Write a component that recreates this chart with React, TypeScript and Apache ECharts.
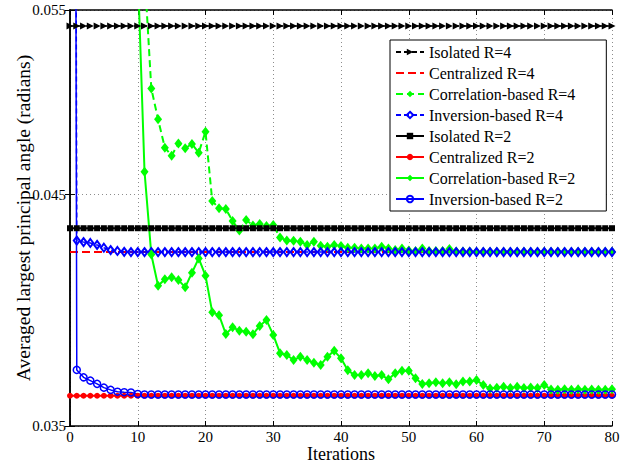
import React, { useEffect, useRef } from "react";
import * as echarts from "echarts";

const FONT = "'Liberation Serif', 'Times New Roman', serif";

const seriesNames = [
  "Isolated R=4",
  "Centralized R=4",
  "Correlation-based R=4",
  "Inversion-based R=4",
  "Isolated R=2",
  "Centralized R=2",
  "Correlation-based R=2",
  "Inversion-based R=2",
];

const xTicks = [0, 10, 20, 30, 40, 50, 60, 70, 80];
const yTicks = [0.035, 0.045, 0.055];

// iterations 0..80
const iterations = [
  0, 1, 2, 3, 4, 5, 6, 7, 8, 9, 10, 11, 12, 13, 14, 15, 16, 17, 18, 19, 20,
  21, 22, 23, 24, 25, 26, 27, 28, 29, 30, 31, 32, 33, 34, 35, 36, 37, 38, 39, 40,
  41, 42, 43, 44, 45, 46, 47, 48, 49, 50, 51, 52, 53, 54, 55, 56, 57, 58, 59, 60,
  61, 62, 63, 64, 65, 66, 67, 68, 69, 70, 71, 72, 73, 74, 75, 76, 77, 78, 79, 80,
];

const isolatedR4 = [
  0.05405, 0.05405, 0.05405, 0.05405, 0.05405, 0.05405, 0.05405, 0.05405, 0.05405, 0.05405, 0.05405,
  0.05405, 0.05405, 0.05405, 0.05405, 0.05405, 0.05405, 0.05405, 0.05405, 0.05405, 0.05405,
  0.05405, 0.05405, 0.05405, 0.05405, 0.05405, 0.05405, 0.05405, 0.05405, 0.05405, 0.05405,
  0.05405, 0.05405, 0.05405, 0.05405, 0.05405, 0.05405, 0.05405, 0.05405, 0.05405, 0.05405,
  0.05405, 0.05405, 0.05405, 0.05405, 0.05405, 0.05405, 0.05405, 0.05405, 0.05405, 0.05405,
  0.05405, 0.05405, 0.05405, 0.05405, 0.05405, 0.05405, 0.05405, 0.05405, 0.05405, 0.05405,
  0.05405, 0.05405, 0.05405, 0.05405, 0.05405, 0.05405, 0.05405, 0.05405, 0.05405, 0.05405,
  0.05405, 0.05405, 0.05405, 0.05405, 0.05405, 0.05405, 0.05405, 0.05405, 0.05405, 0.05405,
];

const centralizedR4 = [
  0.04228, 0.04228, 0.04228, 0.04228, 0.04228, 0.04228, 0.04228, 0.04228, 0.04228, 0.04228, 0.04228,
  0.04228, 0.04228, 0.04228, 0.04228, 0.04228, 0.04228, 0.04228, 0.04228, 0.04228, 0.04228,
  0.04228, 0.04228, 0.04228, 0.04228, 0.04228, 0.04228, 0.04228, 0.04228, 0.04228, 0.04228,
  0.04228, 0.04228, 0.04228, 0.04228, 0.04228, 0.04228, 0.04228, 0.04228, 0.04228, 0.04228,
  0.04228, 0.04228, 0.04228, 0.04228, 0.04228, 0.04228, 0.04228, 0.04228, 0.04228, 0.04228,
  0.04228, 0.04228, 0.04228, 0.04228, 0.04228, 0.04228, 0.04228, 0.04228, 0.04228, 0.04228,
  0.04228, 0.04228, 0.04228, 0.04228, 0.04228, 0.04228, 0.04228, 0.04228, 0.04228, 0.04228,
  0.04228, 0.04228, 0.04228, 0.04228, 0.04228, 0.04228, 0.04228, 0.04228, 0.04228, 0.04228,
];

const correlationR4 = [
  null, null, null, null, null, null, null, null, null, null, null,
  0.0573, 0.05051, 0.04884, 0.04736, 0.04695, 0.04758, 0.04733, 0.04755, 0.0471, 0.04819,
  0.04469, 0.04434, 0.04431, 0.04373, 0.04328, 0.04378, 0.04352, 0.04359, 0.04349, 0.04354,
  0.04296, 0.04281, 0.0428, 0.04276, 0.04261, 0.04276, 0.04257, 0.04253, 0.04261, 0.04256,
  0.04248, 0.04248, 0.04245, 0.04245, 0.04245, 0.04253, 0.04245, 0.04237, 0.04245, 0.04235,
  0.04233, 0.04245, 0.04233, 0.04233, 0.04233, 0.04242, 0.04231, 0.04231, 0.04231, 0.0423,
  0.0423, 0.0423, 0.0423, 0.0423, 0.0423, 0.0423, 0.0423, 0.0423, 0.0423, 0.0423,
  0.0423, 0.0423, 0.0423, 0.0423, 0.0423, 0.0423, 0.0423, 0.0423, 0.0423, 0.0423,
];

const inversionR4 = [
  1.0, 0.04281, 0.04274, 0.0427, 0.04261, 0.04248, 0.04237, 0.04233, 0.04229, 0.04228, 0.04228,
  0.04228, 0.04228, 0.04228, 0.04228, 0.04228, 0.04228, 0.04228, 0.04228, 0.04228, 0.04228,
  0.04228, 0.04228, 0.04228, 0.04228, 0.04228, 0.04228, 0.04228, 0.04228, 0.04228, 0.04228,
  0.04228, 0.04228, 0.04228, 0.04228, 0.04228, 0.04228, 0.04228, 0.04228, 0.04228, 0.04228,
  0.04228, 0.04228, 0.04228, 0.04228, 0.04228, 0.04228, 0.04228, 0.04228, 0.04228, 0.04228,
  0.04228, 0.04228, 0.04228, 0.04228, 0.04228, 0.04228, 0.04228, 0.04228, 0.04228, 0.04228,
  0.04228, 0.04228, 0.04228, 0.04228, 0.04228, 0.04228, 0.04228, 0.04228, 0.04228, 0.04228,
  0.04228, 0.04228, 0.04228, 0.04228, 0.04228, 0.04228, 0.04228, 0.04228, 0.04228, 0.04228,
];

const isolatedR2 = [
  0.04339, 0.04339, 0.04339, 0.04339, 0.04339, 0.04339, 0.04339, 0.04339, 0.04339, 0.04339, 0.04339,
  0.04339, 0.04339, 0.04339, 0.04339, 0.04339, 0.04339, 0.04339, 0.04339, 0.04339, 0.04339,
  0.04339, 0.04339, 0.04339, 0.04339, 0.04339, 0.04339, 0.04339, 0.04339, 0.04339, 0.04339,
  0.04339, 0.04339, 0.04339, 0.04339, 0.04339, 0.04339, 0.04339, 0.04339, 0.04339, 0.04339,
  0.04339, 0.04339, 0.04339, 0.04339, 0.04339, 0.04339, 0.04339, 0.04339, 0.04339, 0.04339,
  0.04339, 0.04339, 0.04339, 0.04339, 0.04339, 0.04339, 0.04339, 0.04339, 0.04339, 0.04339,
  0.04339, 0.04339, 0.04339, 0.04339, 0.04339, 0.04339, 0.04339, 0.04339, 0.04339, 0.04339,
  0.04339, 0.04339, 0.04339, 0.04339, 0.04339, 0.04339, 0.04339, 0.04339, 0.04339, 0.04339,
];

const centralizedR2 = [
  0.03617, 0.03617, 0.03617, 0.03617, 0.03617, 0.03617, 0.03617, 0.03617, 0.03617, 0.03617, 0.03617,
  0.03617, 0.03617, 0.03617, 0.03617, 0.03617, 0.03617, 0.03617, 0.03617, 0.03617, 0.03617,
  0.03617, 0.03617, 0.03617, 0.03617, 0.03617, 0.03617, 0.03617, 0.03617, 0.03617, 0.03617,
  0.03617, 0.03617, 0.03617, 0.03617, 0.03617, 0.03617, 0.03617, 0.03617, 0.03617, 0.03617,
  0.03617, 0.03617, 0.03617, 0.03617, 0.03617, 0.03617, 0.03617, 0.03617, 0.03617, 0.03617,
  0.03617, 0.03617, 0.03617, 0.03617, 0.03617, 0.03617, 0.03617, 0.03617, 0.03617, 0.03617,
  0.03617, 0.03617, 0.03617, 0.03617, 0.03617, 0.03617, 0.03617, 0.03617, 0.03617, 0.03617,
  0.03617, 0.03617, 0.03617, 0.03617, 0.03617, 0.03617, 0.03617, 0.03617, 0.03617, 0.03617,
];

const correlationR2 = [
  null, null, null, null, null, null, null, null, null, null, 0.0575,
  0.04614, 0.04217, 0.04076, 0.04105, 0.04114, 0.04102, 0.04069, 0.04134, 0.04199, 0.04121,
  0.0396, 0.03948, 0.03868, 0.03896, 0.03882, 0.03877, 0.03867, 0.03902, 0.03927, 0.03864,
  0.03788, 0.03781, 0.0376, 0.03774, 0.0376, 0.03749, 0.0374, 0.03774, 0.03798, 0.03767,
  0.03719, 0.03699, 0.03699, 0.03706, 0.03695, 0.03699, 0.03682, 0.03706, 0.03717, 0.03717,
  0.03686, 0.03663, 0.03666, 0.0367, 0.03666, 0.0367, 0.03662, 0.03673, 0.03673, 0.03679,
  0.03659, 0.03646, 0.03649, 0.03652, 0.03648, 0.03652, 0.03648, 0.0365, 0.03648, 0.03659,
  0.03642, 0.03641, 0.03643, 0.03641, 0.03643, 0.03641, 0.03642, 0.03641, 0.03641, 0.03643,
];

const inversionR2 = [
  1.0, 0.0372, 0.0369, 0.03677, 0.03664, 0.03649, 0.0364, 0.03633, 0.03631, 0.0363, 0.03624,
  0.03622, 0.03622, 0.03622, 0.03622, 0.03622, 0.03622, 0.03622, 0.03622, 0.03622, 0.03622,
  0.03622, 0.03622, 0.03622, 0.03622, 0.03622, 0.03622, 0.03622, 0.03622, 0.03622, 0.03622,
  0.03622, 0.03622, 0.03622, 0.03622, 0.03622, 0.03622, 0.03622, 0.03622, 0.03622, 0.03622,
  0.03622, 0.03622, 0.03622, 0.03622, 0.03622, 0.03622, 0.03622, 0.03622, 0.03622, 0.03622,
  0.03622, 0.03622, 0.03622, 0.03622, 0.03622, 0.03622, 0.03622, 0.03622, 0.03622, 0.03622,
  0.03622, 0.03622, 0.03622, 0.03622, 0.03622, 0.03622, 0.03622, 0.03622, 0.03622, 0.03622,
  0.03622, 0.03622, 0.03622, 0.03622, 0.03622, 0.03622, 0.03622, 0.03622, 0.03622, 0.03622,
];

const seriesValues = [
  isolatedR4,
  centralizedR4,
  correlationR4,
  inversionR4,
  isolatedR2,
  centralizedR2,
  correlationR2,
  inversionR2,
];

const styles: any[] = [
  { color: "#000000", width: 1.5, type: [5, 3], symbol: "triangle", size: 7, rotate: -90, fill: "#000000" },
  { color: "#ff0000", width: 2, type: [8, 4], symbol: "none", size: 0, rotate: 0, fill: "#ff0000" },
  { color: "#00ff00", width: 2, type: [7, 4], symbol: "diamond", size: [8, 10], rotate: 0, fill: "#00ff00" },
  { color: "#0000ff", width: 1.5, type: [5, 3], symbol: "diamond", size: [6, 8], rotate: 0, fill: "none", border: 2 },
  { color: "#000000", width: 2, type: "solid", symbol: "rect", size: 6, rotate: 0, fill: "#000000" },
  { color: "#ff0000", width: 2, type: "solid", symbol: "circle", size: 6, rotate: 0, fill: "#ff0000" },
  { color: "#00ff00", width: 2, type: "solid", symbol: "diamond", size: [8, 10], rotate: 0, fill: "#00ff00" },
  { color: "#0000ff", width: 1.5, type: "solid", symbol: "circle", size: 7, rotate: 0, fill: "none", border: 1.5 },
];

export default function App() {
  const ref = useRef<HTMLDivElement>(null);

  useEffect(() => {
    if (!ref.current) return;
    const chart = echarts.init(ref.current, undefined, { renderer: "svg" });

    const series = seriesNames.map((name, i) => {
      const s = styles[i];
      const itemStyle: any =
        s.fill === "none"
          ? { color: "rgba(255,255,255,0)", borderColor: s.color, borderWidth: s.border }
          : { color: s.fill, borderWidth: 0 };
      return {
        name,
        type: "line",
        xAxisIndex: 0,
        yAxisIndex: 0,
        data: iterations.map((it, k) => [it, seriesValues[i][k]]),
        symbol: s.symbol,
        symbolSize: s.size,
        symbolRotate: s.rotate,
        showSymbol: s.symbol !== "none",
        showAllSymbol: true,
        connectNulls: false,
        clip: true,
        color: s.color,
        lineStyle: { color: s.color, width: s.width, type: s.type },
        itemStyle,
        emphasis: { disabled: true },
      };
    });

    const axisLine = { show: true, lineStyle: { color: "#000", width: 1.5 } };
    const gridLine = { show: true, lineStyle: { color: "#8c8c8c", width: 1, type: [1, 3] } };

    const legendData = seriesNames.map((name, i) =>
      styles[i].symbol === "none" ? { name, itemStyle: { opacity: 0 } } : { name }
    );

    chart.setOption({
      animation: false,
      backgroundColor: "#ffffff",
      textStyle: { fontFamily: FONT },
      grid: { left: 70, right: 17, top: 10, bottom: 37, containLabel: false, outerBoundsMode: "none" },
      xAxis: [
        {
          type: "value",
          min: 0,
          max: 80,
          interval: 10,
          position: "bottom",
          name: "Iterations",
          nameLocation: "middle",
          nameGap: 19,
          nameMoveOverlap: false,
          nameTextStyle: { fontFamily: FONT, fontSize: 18, color: "#000" },
          axisLine,
          axisTick: { show: true, inside: true, length: 5, lineStyle: { color: "#000", width: 1 } },
          axisLabel: { fontFamily: FONT, fontSize: 15, color: "#000", margin: 3 },
          splitLine: gridLine,
        },
        {
          type: "value",
          min: 0,
          max: 80,
          interval: 10,
          position: "top",
          axisLine,
          axisTick: { show: true, inside: true, length: 5, lineStyle: { color: "#000", width: 1 } },
          axisLabel: { show: false },
          splitLine: { show: false },
        },
      ],
      yAxis: [
        {
          type: "log",
          logBase: 10,
          min: 0.035,
          max: 0.055,
          position: "left",
          name: "Averaged largest principal angle (radians)",
          nameLocation: "middle",
          nameGap: 37,
          nameMoveOverlap: false,
          nameTextStyle: { fontFamily: FONT, fontSize: 19.5, color: "#000" },
          axisLine,
          axisTick: { show: true, inside: true, length: 5, customValues: yTicks, lineStyle: { color: "#000", width: 1 } },
          axisLabel: {
            fontFamily: FONT,
            fontSize: 15,
            color: "#000",
            margin: 4,
            customValues: yTicks,
            formatter: (v: number) => v.toFixed(3),
          },
          splitLine: gridLine,
        },
        {
          type: "log",
          logBase: 10,
          min: 0.035,
          max: 0.055,
          position: "right",
          axisLine,
          axisTick: { show: true, inside: true, length: 5, customValues: yTicks, lineStyle: { color: "#000", width: 1 } },
          axisLabel: { show: false, customValues: yTicks },
          splitLine: { show: false },
        },
      ],
      legend: {
        orient: "vertical",
        left: 390,
        top: 40,
        itemWidth: 28,
        itemHeight: 8,
        itemGap: 5,
        padding: [4, 31, 4, 5],
        borderColor: "#000",
        borderWidth: 1,
        backgroundColor: "#ffffff",
        textStyle: { fontFamily: FONT, fontSize: 16, color: "#000" },
        data: legendData,
        selectedMode: false,
      },
      series,
    });

    return () => chart.dispose();
  }, []);

  return (
    <div
      ref={ref}
      style={{ position: "fixed", left: 0, top: 0, width: 629, height: 463, background: "#fff" }}
    />
  );
}
